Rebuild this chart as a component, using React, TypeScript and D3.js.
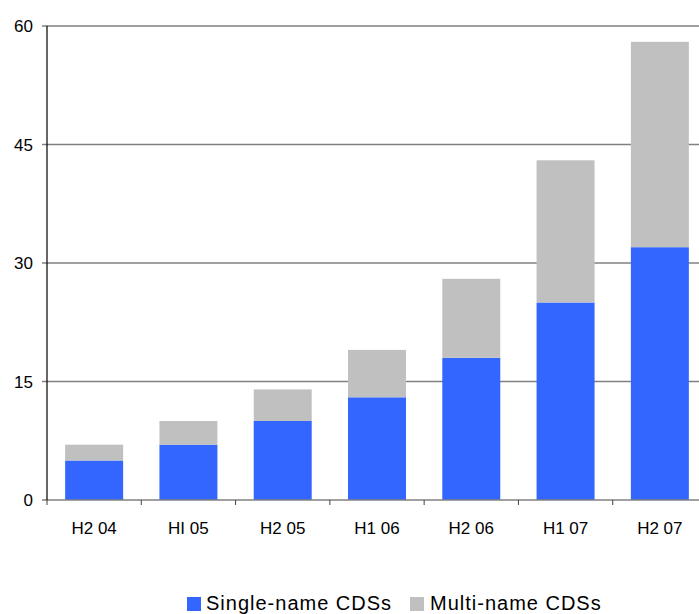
import React from "react";
import * as d3 from "d3";

const categories = ["H2 04", "HI 05", "H2 05", "H1 06", "H2 06", "H1 07", "H2 07"];
const singleName = [5, 7, 10, 13, 18, 25, 32];
const multiName = [2, 3, 4, 6, 10, 18, 26];
const yTicks = [0, 15, 30, 45, 60];
const seriesNames = ["Single-name CDSs", "Multi-name CDSs"];
const seriesColors = ["#3366FF", "#C0C0C0"];

const W = 699;
const H = 614;
const left = 47;
const plotRight = 707;
const top = 26;
const bottom = 500;

export default function App() {
  const x = d3
    .scaleBand<string>()
    .domain(categories)
    .range([left, plotRight])
    .paddingInner(0.385)
    .paddingOuter(0.1925);
  const y = d3.scaleLinear().domain([0, 60]).range([bottom, top]);
  const step = x.step();
  const stacked = categories.map((c, i) => ({ c, s: singleName[i], m: multiName[i] }));
  const font = "Arial, 'Liberation Sans', sans-serif";

  return (
    <svg
      width={W}
      height={H}
      style={{ position: "absolute", left: 0, top: 0, background: "#fff" }}
      fontFamily={font}
    >
      {yTicks.map((t) => (
        <g key={t}>
          {t > 0 && (
            <line x1={left} x2={W} y1={y(t)} y2={y(t)} stroke="#808080" strokeWidth={1.5} />
          )}
          <line x1={left - 5} x2={left} y1={y(t)} y2={y(t)} stroke="#808080" strokeWidth={1.5} />
          <text x={33} y={y(t)} dy="0.36em" textAnchor="end" fontSize={17} fill="#000">
            {t}
          </text>
        </g>
      ))}
      {stacked.map((d) => (
        <g key={d.c}>
          <rect
            x={x(d.c)}
            width={x.bandwidth()}
            y={y(d.s)}
            height={y(0) - y(d.s)}
            fill={seriesColors[0]}
          />
          <rect
            x={x(d.c)}
            width={x.bandwidth()}
            y={y(d.s + d.m)}
            height={y(d.s) - y(d.s + d.m)}
            fill={seriesColors[1]}
          />
        </g>
      ))}
      <line x1={left} x2={W} y1={bottom} y2={bottom} stroke="#808080" strokeWidth={1.5} />
      {categories.map((c, i) => (
        <line
          key={"t" + c}
          x1={left + i * step}
          x2={left + i * step}
          y1={bottom}
          y2={bottom + 5}
          stroke="#404040"
          strokeWidth={1}
        />
      ))}
      <line x1={left} x2={left} y1={top} y2={bottom} stroke="#000" strokeWidth={1.2} />
      {categories.map((c) => (
        <text
          key={"l" + c}
          x={(x(c) as number) + x.bandwidth() / 2}
          y={534}
          textAnchor="middle"
          fontSize={17}
          fill="#000"
        >
          {c}
        </text>
      ))}
      <g>
        <rect x={187} y={597} width={14} height={14} fill={seriesColors[0]} />
        <text x={206} y={609.5} fontSize={20} letterSpacing={1} fill="#000">
          {seriesNames[0]}
        </text>
        <rect x={410} y={597} width={14} height={14} fill={seriesColors[1]} />
        <text x={430} y={609.5} fontSize={20} letterSpacing={1} fill="#000">
          {seriesNames[1]}
        </text>
      </g>
    </svg>
  );
}
